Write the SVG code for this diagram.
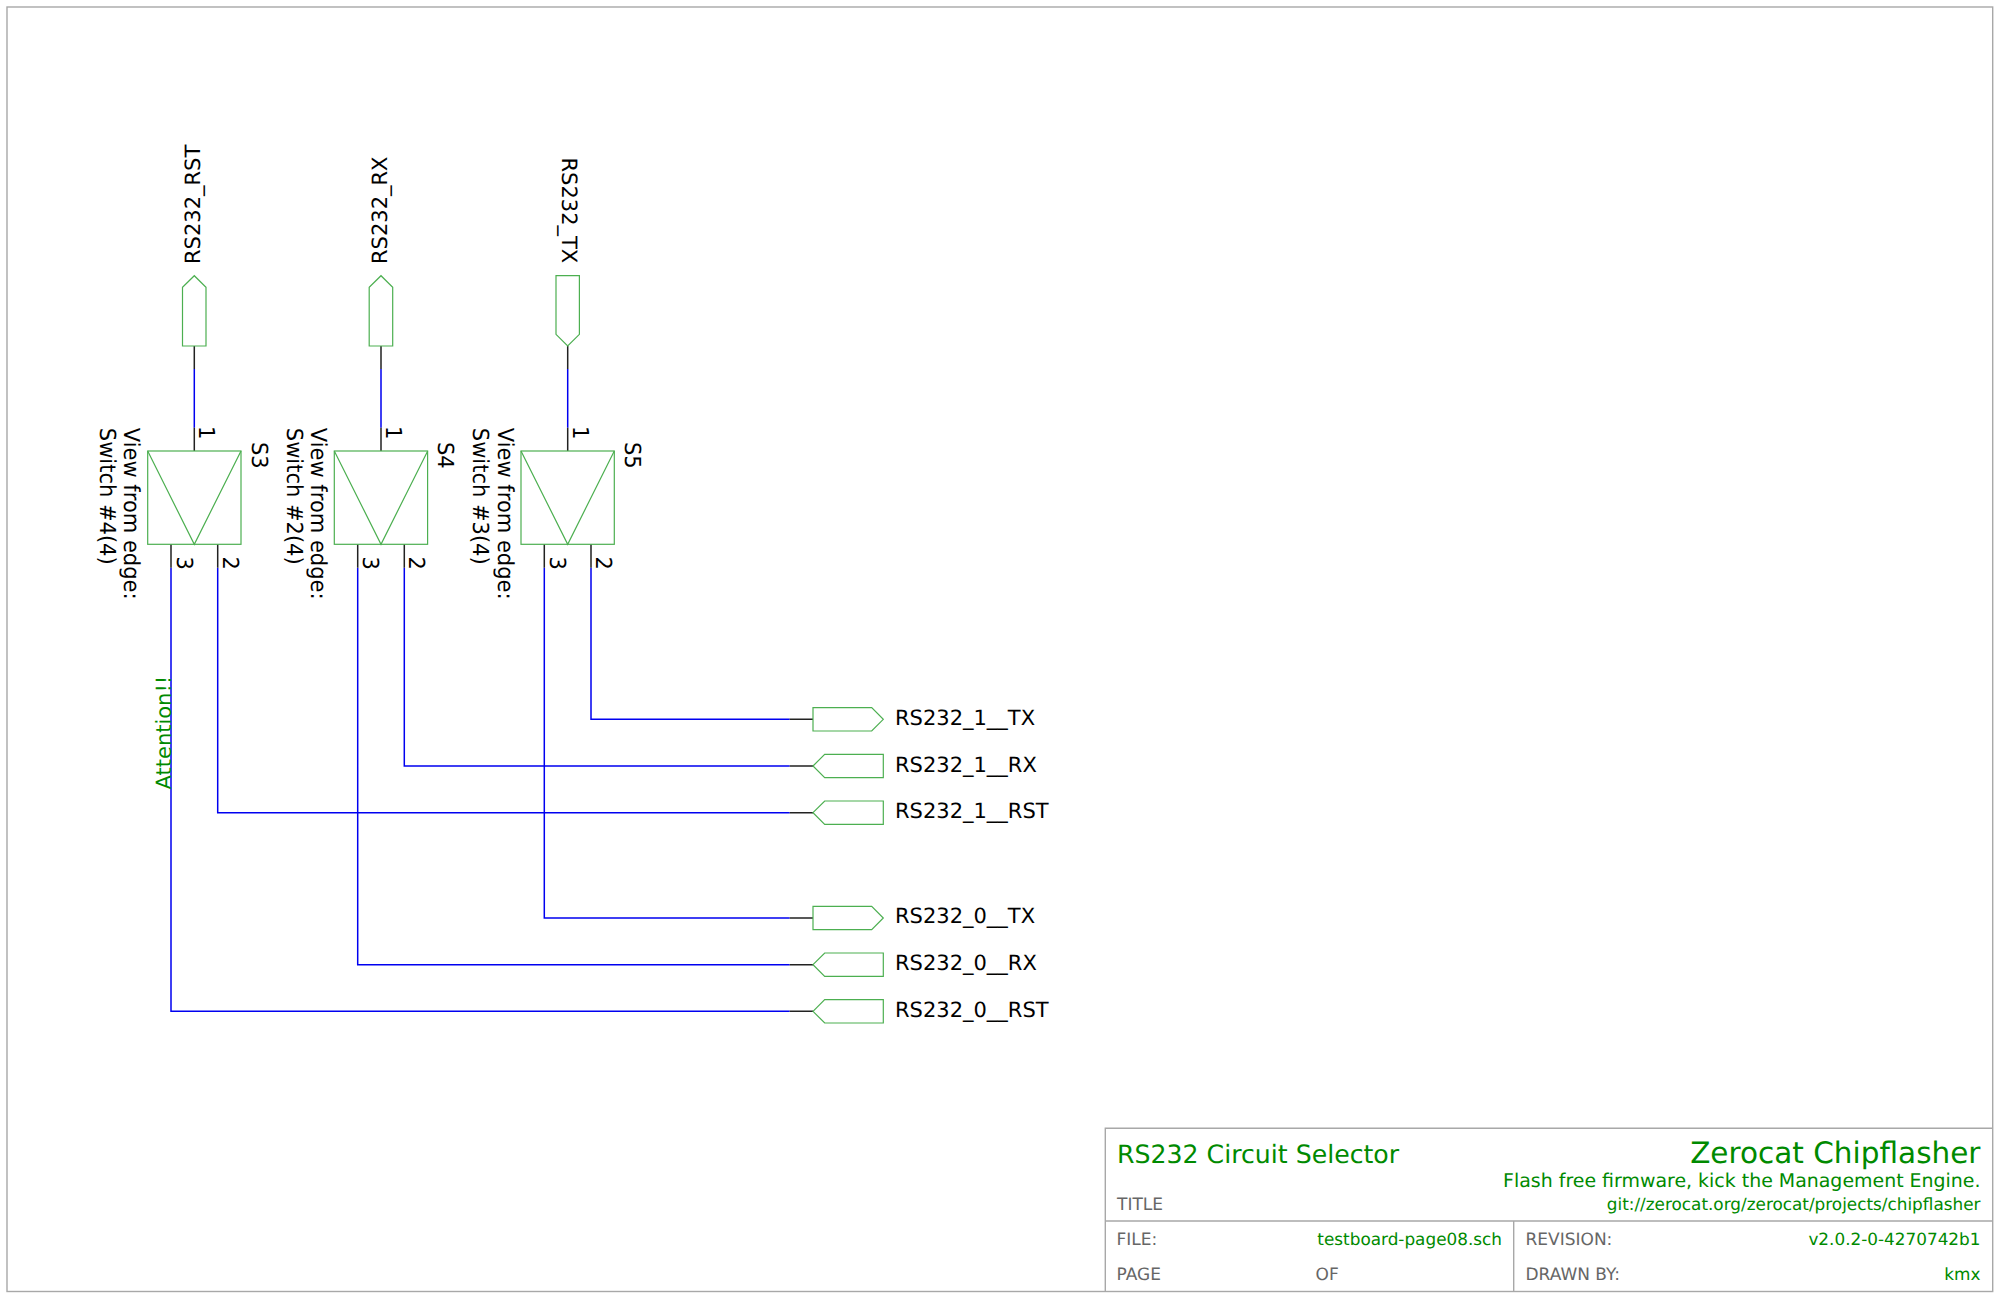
<svg xmlns="http://www.w3.org/2000/svg" width="2000" height="1299" viewBox="0 0 2000 1299">
<style>
text{font-family:"DejaVu Sans",sans-serif;font-size:21px;fill:#000;text-rendering:geometricPrecision}
.c{font-size:22px}
.g{fill:#008a00}
.k{fill:#666;font-size:17px}
.v{fill:#008a00;font-size:16.85px}
.e{text-anchor:end}
.sym{fill:none;stroke:#4caf50;stroke-width:1.2}
.fr{fill:none;stroke:#a8a8a8;stroke-width:1.4}
.w{fill:none;stroke:#0000f0;stroke-width:1.5}
.p{fill:none;stroke:#222;stroke-width:1.5}
</style>
<rect width="2000" height="1299" fill="#fff"/>
<g id="frame">
<rect class="fr" x="7" y="7" width="1985.7" height="1284.5"/>
</g>
<g id="connectors">
<path class="w" d="M194.3 369V427.7M381 369V427.7M567.7 369V427.7"/>
<path class="w" d="M591 567.7V719.3H789.7M404.3 567.7V766H789.7M217.7 567.7V812.7H789.7M544.3 567.7V918H789.7M357.7 567.7V964.7H789.7M171 567.7V1011.3H789.7"/>
<path class="p" d="M194.3 346V369M381 346V369M567.7 346V369M789.7 719.3H813M789.7 766H813M789.7 812.7H813M789.7 918H813M789.7 964.7H813M789.7 1011.3H813"/>
</g>
<g id="S3">
<path class="p" d="M194.3 427.7V451M171 544.3V567.7M217.7 544.3V567.7"/>
<rect class="sym" x="147.7" y="451" width="93.3" height="93.3"/>
<path class="sym" d="M147.7 451L194.3 544.3L241 451"/>
<text class="c" transform="translate(199.3 426) rotate(90) scale(.955 1)">1</text>
<text class="c" transform="translate(176.5 556.5) rotate(90) scale(.955 1)">3</text>
<text class="c" transform="translate(222.7 556.5) rotate(90) scale(.955 1)">2</text>
<text class="c" transform="translate(251.7 442) rotate(90) scale(.955 1)">S3</text>
<text class="c" transform="translate(124.3 427.8) rotate(90) scale(.955 1)">View from edge:</text>
<text class="c" transform="translate(100 427.8) rotate(90) scale(.955 1)">Switch #4(4)</text>
</g>
<g id="S4">
<path class="p" d="M381 427.7V451M357.7 544.3V567.7M404.3 544.3V567.7"/>
<rect class="sym" x="334.3" y="451" width="93.3" height="93.3"/>
<path class="sym" d="M334.3 451L381 544.3L427.7 451"/>
<text class="c" transform="translate(386 426) rotate(90) scale(.955 1)">1</text>
<text class="c" transform="translate(363.2 556.5) rotate(90) scale(.955 1)">3</text>
<text class="c" transform="translate(409.4 556.5) rotate(90) scale(.955 1)">2</text>
<text class="c" transform="translate(438.4 442) rotate(90) scale(.955 1)">S4</text>
<text class="c" transform="translate(311 427.8) rotate(90) scale(.955 1)">View from edge:</text>
<text class="c" transform="translate(286.7 427.8) rotate(90) scale(.955 1)">Switch #2(4)</text>
</g>
<g id="S5">
<path class="p" d="M567.7 427.7V451M544.3 544.3V567.7M591 544.3V567.7"/>
<rect class="sym" x="521" y="451" width="93.3" height="93.3"/>
<path class="sym" d="M521 451L567.7 544.3L614.3 451"/>
<text class="c" transform="translate(572.7 426) rotate(90) scale(.955 1)">1</text>
<text class="c" transform="translate(549.9 556.5) rotate(90) scale(.955 1)">3</text>
<text class="c" transform="translate(596.1 556.5) rotate(90) scale(.955 1)">2</text>
<text class="c" transform="translate(625.1 442) rotate(90) scale(.955 1)">S5</text>
<text class="c" transform="translate(497.7 427.8) rotate(90) scale(.955 1)">View from edge:</text>
<text class="c" transform="translate(473.4 427.8) rotate(90) scale(.955 1)">Switch #3(4)</text>
</g>
<g id="RS232_RST"><path class="sym" d="M182.5 346V287.3L194.3 275.7L206 287.3V346Z"/><text transform="translate(200 264) rotate(-90)">RS232_RST</text></g>
<g id="RS232_RX"><path class="sym" d="M369.2 346V287.3L381 275.7L392.7 287.3V346Z"/><text transform="translate(386.8 264) rotate(-90)">RS232_RX</text></g>
<g id="RS232_TX"><path class="sym" d="M556 275.7V334.3L567.7 346L579.4 334.3V275.7Z"/><text transform="translate(561.7 157.5) rotate(90)">RS232_TX</text></g>
<g id="RS232_1__TX"><path class="sym" d="M813 707.6H871.7L883.3 719.3L871.7 731H813Z"/><text x="895" y="725">RS232_1__TX</text></g>
<g id="RS232_1__RX"><path class="sym" d="M813 766L824.7 754.3H883.3V777.7H824.7Z"/><text x="895" y="771.7">RS232_1__RX</text></g>
<g id="RS232_1__RST"><path class="sym" d="M813 812.7L824.7 801H883.3V824.4H824.7Z"/><text x="895" y="818.3">RS232_1__RST</text></g>
<g id="RS232_0__TX"><path class="sym" d="M813 906.3H871.7L883.3 918L871.7 929.7H813Z"/><text x="895" y="923.3">RS232_0__TX</text></g>
<g id="RS232_0__RX"><path class="sym" d="M813 964.7L824.7 953H883.3V976.4H824.7Z"/><text x="895" y="970">RS232_0__RX</text></g>
<g id="RS232_0__RST"><path class="sym" d="M813 1011.3L824.7 999.6H883.3V1023H824.7Z"/><text x="895" y="1016.7">RS232_0__RST</text></g>
<text class="g" transform="translate(170.7 789.5) rotate(-90)">Attention!!</text>
<g id="title-block">
<path class="fr" d="M1105.3 1291.5V1128.3H1992.7M1105.3 1221H1992.7M1513.7 1221V1291.5"/>
<text x="1117" y="1163" class="g" style="font-size:25.2px">RS232 Circuit Selector</text>
<text x="1980.5" y="1162.7" class="g e" style="font-size:29.5px">Zerocat Chipflasher</text>
<text x="1980.5" y="1186.7" class="g e" style="font-size:18.95px">Flash free firmware, kick the Management Engine.</text>
<text x="1980.5" y="1210" class="v e">git://zerocat.org/zerocat/projects/chipflasher</text>
<text x="1117" y="1210" class="k">TITLE</text>
<text x="1116.5" y="1244.5" class="k">FILE:</text>
<text x="1502" y="1244.5" class="v e">testboard-page08.sch</text>
<text x="1116.5" y="1280" class="k">PAGE</text>
<text x="1315.5" y="1280" class="k">OF</text>
<text x="1525.5" y="1244.5" class="k">REVISION:</text>
<text x="1980.5" y="1244.5" class="v e">v2.0.2-0-4270742b1</text>
<text x="1525.5" y="1280" class="k">DRAWN BY:</text>
<text x="1980.5" y="1280" class="v e">kmx</text>
</g>
</svg>
